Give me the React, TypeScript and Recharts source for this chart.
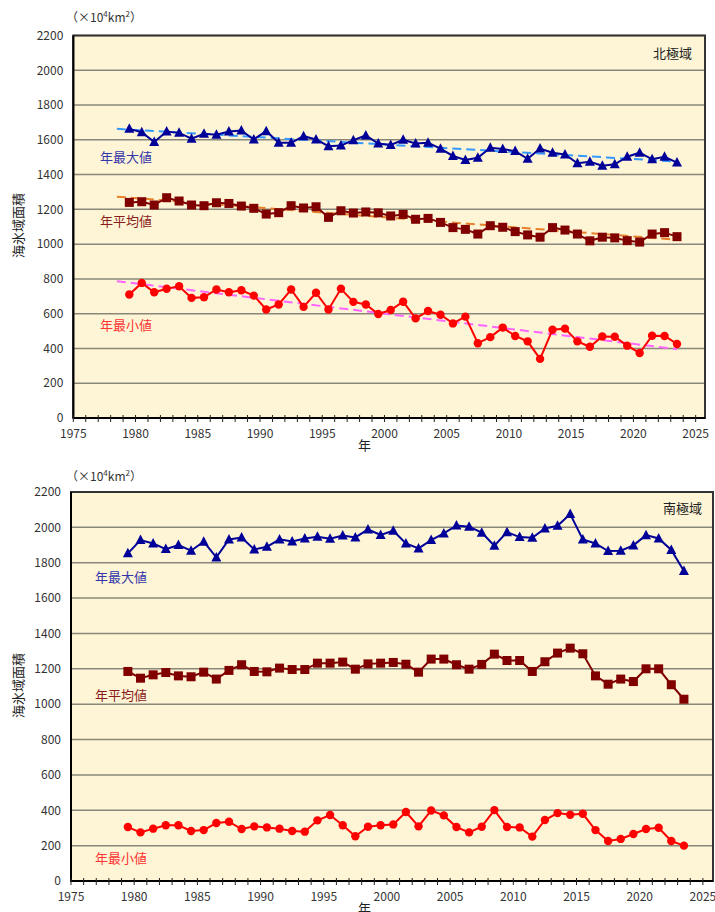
import React from 'react';
import { LineChart, Line, XAxis, YAxis, CartesianGrid, ReferenceArea } from 'recharts';

const years = [1979, 1980, 1981, 1982, 1983, 1984, 1985, 1986, 1987, 1988, 1989, 1990, 1991, 1992, 1993, 1994, 1995, 1996, 1997, 1998, 1999, 2000, 2001, 2002, 2003, 2004, 2005, 2006, 2007, 2008, 2009, 2010, 2011, 2012, 2013, 2014, 2015, 2016, 2017, 2018, 2019, 2020, 2021, 2022, 2023];

// Arctic (北極域)
const arcticMax = [1663, 1644, 1587, 1648, 1640, 1606, 1635, 1629, 1648, 1654, 1602, 1650, 1583, 1583, 1621, 1602, 1563, 1567, 1598, 1625, 1579, 1570, 1600, 1579, 1583, 1549, 1507, 1484, 1497, 1554, 1547, 1535, 1491, 1550, 1526, 1516, 1465, 1474, 1451, 1459, 1503, 1526, 1488, 1503, 1469];
const arcticAvg = [1240, 1244, 1225, 1267, 1248, 1225, 1221, 1238, 1234, 1219, 1206, 1173, 1181, 1221, 1208, 1215, 1154, 1192, 1179, 1185, 1180, 1162, 1171, 1143, 1148, 1125, 1095, 1085, 1058, 1106, 1097, 1072, 1053, 1040, 1095, 1081, 1058, 1019, 1040, 1036, 1020, 1012, 1058, 1066, 1043];
const arcticMin = [710, 777, 723, 743, 758, 691, 695, 739, 723, 735, 704, 624, 653, 739, 639, 720, 624, 743, 668, 653, 598, 621, 669, 573, 615, 594, 544, 583, 430, 465, 520, 472, 441, 340, 508, 514, 441, 410, 469, 467, 416, 374, 473, 472, 426];

// Arctic linear trends (start / end year, value)
const trendYears = [1978, 2023];
const arcticMaxTrend = [1663, 1475];
const arcticAvgTrend = [1273, 1025];
const arcticMinTrend = [787, 396];

// Antarctic (南極域)
const antarcticMax = [1853, 1928, 1909, 1877, 1900, 1868, 1919, 1830, 1932, 1943, 1875, 1890, 1932, 1920, 1937, 1947, 1936, 1954, 1943, 1988, 1957, 1981, 1909, 1881, 1928, 1966, 2011, 2004, 1970, 1896, 1973, 1945, 1941, 1994, 2009, 2075, 1932, 1909, 1866, 1868, 1898, 1956, 1937, 1872, 1753];
const antarcticAvg = [1185, 1147, 1166, 1179, 1160, 1155, 1181, 1142, 1191, 1223, 1185, 1183, 1204, 1196, 1196, 1232, 1232, 1238, 1198, 1228, 1232, 1236, 1226, 1181, 1255, 1255, 1223, 1198, 1225, 1283, 1247, 1247, 1185, 1240, 1289, 1317, 1285, 1160, 1113, 1142, 1128, 1200, 1200, 1110, 1028];
const antarcticMin = [305, 275, 296, 315, 315, 283, 288, 328, 335, 294, 309, 303, 296, 283, 279, 343, 373, 315, 253, 307, 315, 320, 390, 309, 399, 371, 305, 275, 307, 401, 305, 303, 251, 345, 384, 375, 380, 288, 226, 238, 266, 294, 301, 226, 200];

const xTicks = [1975, 1976, 1977, 1978, 1979, 1980, 1981, 1982, 1983, 1984, 1985, 1986, 1987, 1988, 1989, 1990, 1991, 1992, 1993, 1994, 1995, 1996, 1997, 1998, 1999, 2000, 2001, 2002, 2003, 2004, 2005, 2006, 2007, 2008, 2009, 2010, 2011, 2012, 2013, 2014, 2015, 2016, 2017, 2018, 2019, 2020, 2021, 2022, 2023, 2024, 2025];
const xLabels = [1975, 1980, 1985, 1990, 1995, 2000, 2005, 2010, 2015, 2020, 2025];
const yTicks = [0, 200, 400, 600, 800, 1000, 1200, 1400, 1600, 1800, 2000, 2200];

const FONT = '"Noto Sans CJK JP", "Noto Sans", sans-serif';
const C_MAX = '#000099';
const C_AVG = '#800000';
const C_MIN = '#ff0000';
const T_MAX = '#3399ff';
const T_AVG = '#e6802a';
const T_MIN = '#ff66ff';

const buildTable = (mx: number[], av: number[], mn: number[]) =>
  years.map((y, i) => ({ x: y + 0.5, max: mx[i], avg: av[i], min: mn[i] }));
const buildTrend = (vals: number[]) => trendYears.map((y, i) => ({ x: y + 0.5, v: vals[i] }));

const Triangle = (p: any) => {
  const { cx, cy, index } = p;
  if (cx == null || cy == null) return <g key={`t${index}`} />;
  return <polygon key={`t${index}`} points={`${cx},${cy - 5.5} ${cx - 5},${cy + 4} ${cx + 5},${cy + 4}`} fill={C_MAX} />;
};
const Square = (p: any) => {
  const { cx, cy, index } = p;
  if (cx == null || cy == null) return <g key={`s${index}`} />;
  return <rect key={`s${index}`} x={cx - 4.5} y={cy - 4.5} width={9} height={9} fill={C_AVG} />;
};
const Circle = (p: any) => {
  const { cx, cy, index } = p;
  if (cx == null || cy == null) return <g key={`c${index}`} />;
  return <circle key={`c${index}`} cx={cx} cy={cy} r={4.2} fill={C_MIN} />;
};

const XTick = (p: any) => {
  const { x, y, payload } = p;
  const v = payload.value;
  const major = xLabels.includes(v);
  return (
    <g>
      <line x1={x} y1={y - 3} x2={x} y2={y + 4} stroke="#222" strokeWidth={1} />
      {major && (
        <text x={x} y={y + 20} textAnchor="middle" fontSize={12} fill="#333" fontFamily={FONT}>
          {v}
        </text>
      )}
    </g>
  );
};

type PanelProps = {
  width: number;
  height: number;
  margin: any;
  xHeight: number;
  xMax: number;
  mx: number[];
  av: number[];
  mn: number[];
  trends?: boolean;
};

const Panel = ({ width, height, margin, xHeight, xMax, mx, av, mn, trends }: PanelProps) => {
  const data = buildTable(mx, av, mn);
  return (
    <LineChart width={width} height={height} data={data} margin={margin}>
      <CartesianGrid vertical={false} fill="#fdf5d6" stroke="#8a877a" strokeWidth={1.5} horizontalValues={yTicks} />
      <ReferenceArea x1={1975} x2={xMax} y1={0} y2={2200} fill="none" stroke="#333" strokeWidth={2} />
      <XAxis
        dataKey="x"
        type="number"
        domain={[1975, xMax]}
        ticks={xTicks}
        interval={0}
        height={xHeight}
        tick={<XTick />}
        tickLine={false}
        tickSize={0}
        tickMargin={0}
        axisLine={{ stroke: '#000', strokeWidth: 2 }}
        allowDataOverflow
      />
      <YAxis
        type="number"
        domain={[0, 2200]}
        ticks={yTicks}
        interval={0}
        width={60}
        tickLine={false}
        tickMargin={4}
        axisLine={{ stroke: '#000', strokeWidth: 2 }}
        tick={{ fontSize: 12, fill: '#333', fontFamily: FONT }}
      />
      {trends && (
        <Line data={buildTrend(arcticMaxTrend)} dataKey="v" stroke={T_MAX} strokeWidth={2} strokeDasharray="9 5" dot={false} isAnimationActive={false} />
      )}
      {trends && (
        <Line data={buildTrend(arcticAvgTrend)} dataKey="v" stroke={T_AVG} strokeWidth={2} strokeDasharray="9 5" dot={false} isAnimationActive={false} />
      )}
      {trends && (
        <Line data={buildTrend(arcticMinTrend)} dataKey="v" stroke={T_MIN} strokeWidth={2} strokeDasharray="9 5" dot={false} isAnimationActive={false} />
      )}
      <Line dataKey="max" stroke={C_MAX} strokeWidth={2} dot={Triangle} activeDot={false} isAnimationActive={false} />
      <Line dataKey="avg" stroke={C_AVG} strokeWidth={2} dot={Square} activeDot={false} isAnimationActive={false} />
      <Line dataKey="min" stroke={C_MIN} strokeWidth={2} dot={Circle} activeDot={false} isAnimationActive={false} />
    </LineChart>
  );
};

const abs = (left: number, top: number, color: string, size = 13): React.CSSProperties => ({
  position: 'absolute',
  left,
  top,
  color,
  fontSize: size,
  fontFamily: FONT,
  lineHeight: 1,
  whiteSpace: 'nowrap',
});

const Unit = ({ left, top }: { left: number; top: number }) => (
  <div style={abs(left, top, '#333', 12)}>
    （×10<sup style={{ fontSize: 8 }}>4</sup>km<sup style={{ fontSize: 8 }}>2</sup>）
  </div>
);

const YTitle = ({ cx, cy }: { cx: number; cy: number }) => (
  <div
    style={{
      ...abs(cx - 40, cy - 7, '#222', 13),
      width: 80,
      textAlign: 'center',
      transform: 'rotate(-90deg)',
    }}
  >
    海氷域面積
  </div>
);

export default function App() {
  return (
    <div style={{ position: 'absolute', left: 0, top: 0, width: 715, height: 912, overflow: 'hidden', background: '#fff' }}>
      <style>{'body{margin:0}'}</style>
      <div style={{ position: 'absolute', left: 0, top: 0 }}>
        <Panel
          width={715}
          height={455}
          margin={{ top: 35.5, right: 10, bottom: 7, left: 13.3 }}
          xHeight={30}
          xMax={2025.75}
          mx={arcticMax}
          av={arcticAvg}
          mn={arcticMin}
          trends
        />
      </div>
      <div style={{ position: 'absolute', left: 0, top: 455 }}>
        <Panel
          width={715}
          height={457}
          margin={{ top: 37, right: 2, bottom: 6, left: 11 }}
          xHeight={25}
          xMax={2025.8}
          mx={antarcticMax}
          av={antarcticAvg}
          mn={antarcticMin}
        />
      </div>

      {/* top panel annotations */}
      <Unit left={66} top={10} />
      <YTitle cx={17} cy={226} />
      <div style={abs(358, 438, '#222', 13)}>年</div>
      <div style={abs(653, 46, '#222', 13)}>北極域</div>
      <div style={abs(100, 150, '#3333aa', 13)}>年最大値</div>
      <div style={abs(100, 214, '#8b1c1c', 13)}>年平均値</div>
      <div style={abs(100, 318, '#ff3333', 13)}>年最小値</div>

      {/* bottom panel annotations */}
      <Unit left={66} top={469} />
      <YTitle cx={17} cy={686} />
      <div style={abs(358, 901, '#222', 13)}>年</div>
      <div style={abs(663, 501, '#222', 13)}>南極域</div>
      <div style={abs(95, 570, '#3333aa', 13)}>年最大値</div>
      <div style={abs(95, 688, '#8b1c1c', 13)}>年平均値</div>
      <div style={abs(95, 851, '#ff3333', 13)}>年最小値</div>
    </div>
  );
}
